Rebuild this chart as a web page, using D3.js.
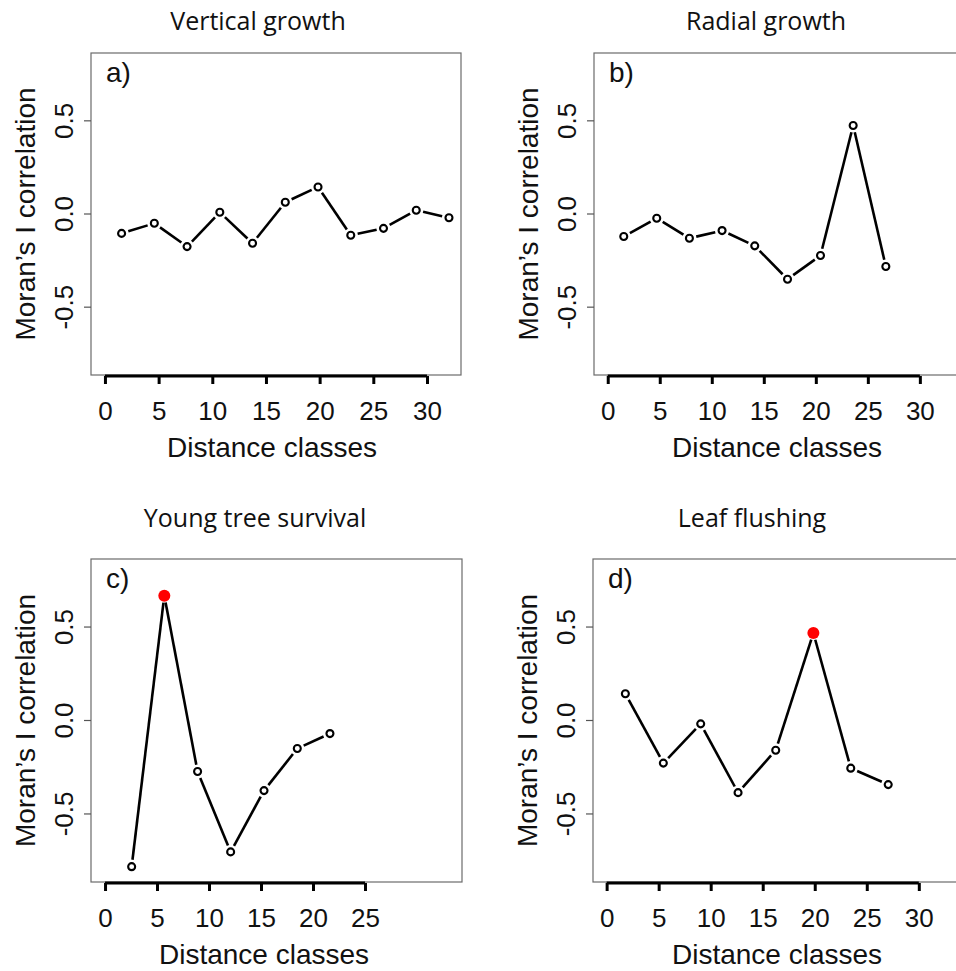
<!DOCTYPE html>
<meta charset="utf-8">
<style>
body { margin: 0; background: #fff; }
.box { fill: none; stroke: #6b6b6b; stroke-width: 1.2px; }
.seg { stroke: #000; stroke-width: 2.6px; stroke-linecap: butt; }
.pt { fill: #fff; stroke: #000; stroke-width: 2.1px; }
.sig { fill: #f00; stroke: none; }
text { font-family: "Liberation Sans", Arial, sans-serif; fill: #111; }
.title { font-family: "Open Sans", sans-serif; font-size: 25px; }
</style>
<body>
<script src="https://d3js.org/d3.v7.min.js"></script>
<script>

// distance class centres and Moran's I values
var distA = [1.55, 4.6, 7.65, 10.7, 13.75, 16.8, 19.85, 22.9, 25.95, 29.0, 32.05];
var moranA = [-0.104, -0.05, -0.175, 0.009, -0.157, 0.063, 0.145, -0.114, -0.077, 0.02, -0.02];

var distB = [1.54, 4.71, 7.85, 10.99, 14.13, 17.28, 20.45, 23.59, 26.73];
var moranB = [-0.121, -0.023, -0.13, -0.089, -0.171, -0.35, -0.223, 0.475, -0.282];

var distC = [2.56, 5.7, 8.9, 12.08, 15.29, 18.49, 21.63];
var moranC = [-0.782, 0.668, -0.273, -0.703, -0.375, -0.15, -0.07];
var sigC = [0, 1, 0, 0, 0, 0, 0];

var distD = [1.8, 5.45, 9.04, 12.63, 16.25, 19.87, 23.46, 27.06];
var moranD = [0.143, -0.228, -0.018, -0.386, -0.159, 0.468, -0.255, -0.343];
var sigD = [0, 0, 0, 0, 0, 1, 0, 0];

var titles = ["Vertical growth", "Radial growth", "Young tree survival", "Leaf flushing"];
var letters = ["a)", "b)", "c)", "d)"];
var xTicks30 = [0, 5, 10, 15, 20, 25, 30];
var xTicks25 = [0, 5, 10, 15, 20, 25];
var yTicks = [-0.5, 0.0, 0.5];
var yTickLabels = ["-0.5", "0.0", "0.5"];

// panel layout (pixels) and plotting limits
var panels = [
  {x: distA, y: moranA, sig: null, ticks: xTicks30, left: 91, right: 461, top: 53, bottom: 375,
   xlim: [-1.30, 33.17], title: [258, 30], xlab: 272},
  {x: distB, y: moranB, sig: null, ticks: xTicks30, left: 594, right: 975, top: 53, bottom: 375,
   xlim: [-1.32, 35.3], title: [766, 30], xlab: 777},
  {x: distC, y: moranC, sig: sigC, ticks: xTicks25, left: 91, right: 462, top: 559, bottom: 882,
   xlim: [-1.35, 34.33], title: [255, 527], xlab: 264},
  {x: distD, y: moranD, sig: sigD, ticks: xTicks30, left: 593, right: 975, top: 559, bottom: 882,
   xlim: [-1.31, 35.4], title: [752, 527], xlab: 777}
];
var ylim = [-0.864, 0.864];

var svg = d3.select("body").append("svg")
  .attr("width", 956)
  .attr("height", 971);

svg.append("rect").attr("width", 956).attr("height", 971).attr("fill", "#fff");

panels.forEach(function(p, i) {
  var x = d3.scaleLinear().domain(p.xlim).range([p.left, p.right]);
  var y = d3.scaleLinear().domain(ylim).range([p.bottom, p.top]);
  var g = svg.append("g");

  // frame
  g.append("rect").attr("class", "box")
    .attr("x", p.left).attr("y", p.top)
    .attr("width", p.right - p.left).attr("height", p.bottom - p.top);

  // x axis (thick, R style)
  var xa = g.append("g")
    .attr("transform", "translate(0," + (p.bottom + 1) + ")")
    .call(d3.axisBottom(x).tickValues(p.ticks).tickSize(8).tickPadding(18).tickFormat(d3.format("d")));
  xa.select(".domain").attr("stroke", "#000").attr("stroke-width", 3)
    .attr("d", "M" + x(p.ticks[0]) + ",0H" + x(p.ticks[p.ticks.length - 1]));
  xa.selectAll(".tick line").attr("stroke", "#000").attr("stroke-width", 3);
  xa.selectAll(".tick text").attr("font-size", 26).attr("fill", "#111")
    .attr("font-family", "Liberation Sans, Arial, sans-serif");

  // y axis: thin ticks, rotated labels
  var ya = g.append("g");
  ya.selectAll("line").data(yTicks).join("line")
    .attr("x1", p.left - 7).attr("x2", p.left)
    .attr("y1", function(d) { return y(d); }).attr("y2", function(d) { return y(d); })
    .attr("stroke", "#555").attr("stroke-width", 1.2);
  ya.selectAll("text").data(yTicks).join("text")
    .attr("transform", function(d) { return "translate(" + (p.left - 18) + "," + y(d) + ") rotate(-90)"; })
    .attr("text-anchor", "middle")
    .attr("font-size", 26)
    .text(function(d, k) { return yTickLabels[k]; });

  // axis titles
  g.append("text")
    .attr("transform", "translate(" + (p.left - 56) + "," + ((p.top + p.bottom) / 2) + ") rotate(-90)")
    .attr("text-anchor", "middle").attr("font-size", 28)
    .text("Moran\u2019s I correlation");
  g.append("text")
    .attr("x", p.xlab)
    .attr("y", p.bottom + 82)
    .attr("text-anchor", "middle").attr("font-size", 28)
    .text("Distance classes");

  // panel letter and title
  g.append("text").attr("x", p.left + 15).attr("y", p.top + 29)
    .attr("font-size", 28).text(letters[i]);
  g.append("text").attr("class", "title")
    .attr("x", p.title[0]).attr("y", p.title[1])
    .attr("text-anchor", "middle").text(titles[i]);

  // line segments with gaps around points (type = "b")
  var pts = p.x.map(function(d, k) { return [x(d), y(p.y[k])]; });
  var gap = 7;
  var segs = d3.pairs(pts).map(function(pr) {
    var dx = pr[1][0] - pr[0][0], dy = pr[1][1] - pr[0][1];
    var len = Math.sqrt(dx * dx + dy * dy);
    var ux = dx / len, uy = dy / len;
    return [pr[0][0] + ux * gap, pr[0][1] + uy * gap, pr[1][0] - ux * gap, pr[1][1] - uy * gap];
  });
  g.selectAll(".seg").data(segs).join("line").attr("class", "seg")
    .attr("x1", function(s) { return s[0]; }).attr("y1", function(s) { return s[1]; })
    .attr("x2", function(s) { return s[2]; }).attr("y2", function(s) { return s[3]; });

  g.selectAll(".pt").data(pts).join("circle")
    .attr("class", function(d, k) { return p.sig && p.sig[k] ? "sig" : "pt"; })
    .attr("cx", function(d) { return d[0]; })
    .attr("cy", function(d) { return d[1]; })
    .attr("r", function(d, k) { return p.sig && p.sig[k] ? 6 : 3.5; });
});

</script>
</body>
